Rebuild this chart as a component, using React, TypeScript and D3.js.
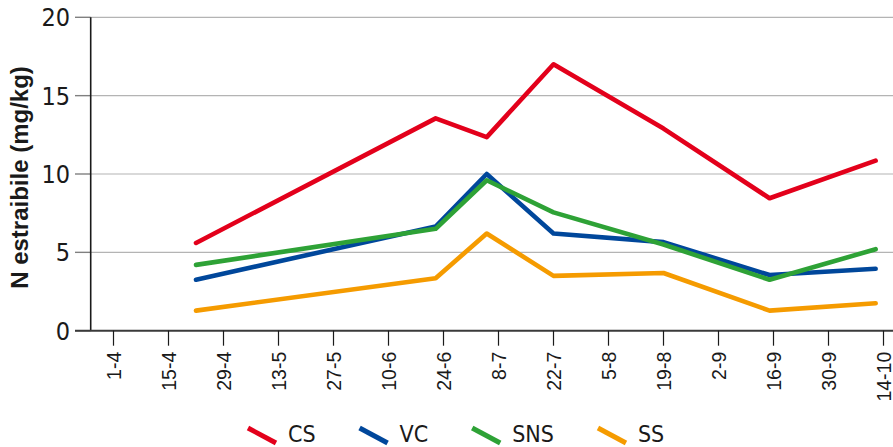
import React, { useEffect, useRef } from "react";
import * as d3 from "d3";

// ---- data ----
const sampleDates = ["2021-04-22", "2021-06-22", "2021-07-05", "2021-07-22", "2021-08-19", "2021-09-15", "2021-10-12"];
const seriesNames = ["CS", "VC", "SNS", "SS"];
const csValues = [5.6, 13.55, 12.35, 17.0, 12.9, 8.45, 10.85];
const vcValues = [3.25, 6.65, 10.0, 6.2, 5.65, 3.55, 3.95];
const snsValues = [4.2, 6.5, 9.6, 7.55, 5.5, 3.25, 5.2];
const ssValues = [1.28, 3.35, 6.2, 3.5, 3.68, 1.28, 1.75];
const xTickLabels = ["1-4", "15-4", "29-4", "13-5", "27-5", "10-6", "24-6", "8-7", "22-7", "5-8", "19-8", "2-9", "16-9", "30-9", "14-10"];
const yTicks = [0, 5, 10, 15, 20];
const yTitle = "N estraibile (mg/kg)";

const seriesColors = ["#e3001b", "#00479b", "#2ea236", "#f59b00"];

const W = 893;
const H = 447;

function parseTick(s: string): Date {
  const [d, m] = s.split("-").map(Number);
  return new Date(Date.UTC(2021, m - 1, d));
}

export default function App() {
  const ref = useRef<SVGSVGElement | null>(null);

  useEffect(() => {
    const svg = d3.select(ref.current);
    svg.selectAll("*").remove();

    const numFont = "'Liberation Sans Narrow', 'DejaVu Sans Condensed', 'Liberation Sans', sans-serif";
    const tickDates = xTickLabels.map(parseTick);
    const plotLeft = 90.7;
    const plotRight = W;

    const x = d3
      .scaleUtc()
      .domain([tickDates[0], tickDates[tickDates.length - 1]])
      .range([113.5, 883.5]);
    const y = d3.scaleLinear().domain([0, 20]).range([330.7, 17.3]);

    // gridlines
    svg
      .append("g")
      .selectAll("line")
      .data(yTicks.filter((t) => t > 0))
      .join("line")
      .attr("x1", plotLeft)
      .attr("x2", plotRight)
      .attr("y1", (d) => y(d))
      .attr("y2", (d) => y(d))
      .attr("stroke", "#b4b4b4")
      .attr("stroke-width", 1.2);

    // y ticks
    svg
      .append("g")
      .selectAll("line")
      .data(yTicks)
      .join("line")
      .attr("x1", 75)
      .attr("x2", plotLeft)
      .attr("y1", (d) => y(d))
      .attr("y2", (d) => y(d))
      .attr("stroke", "#808080")
      .attr("stroke-width", 1.4);

    // y tick labels
    svg
      .append("g")
      .selectAll("text")
      .data(yTicks)
      .join("text")
      .attr("x", 70)
      .attr("y", (d) => y(d))
      .attr("dy", "0.36em")
      .attr("text-anchor", "end")
      .attr("font-family", numFont)
      .attr("font-size", 25)
      .attr("fill", "#1a1a1a")
      .text((d) => String(d));

    // y axis line
    svg
      .append("line")
      .attr("x1", plotLeft)
      .attr("x2", plotLeft)
      .attr("y1", y(20))
      .attr("y2", y(0))
      .attr("stroke", "#1a1a1a")
      .attr("stroke-width", 1.6);

    // x axis line
    svg
      .append("line")
      .attr("x1", 75)
      .attr("x2", plotRight)
      .attr("y1", y(0))
      .attr("y2", y(0))
      .attr("stroke", "#3a3a3a")
      .attr("stroke-width", 2);

    // x ticks
    svg
      .append("g")
      .selectAll("line")
      .data(tickDates)
      .join("line")
      .attr("x1", (d) => x(d))
      .attr("x2", (d) => x(d))
      .attr("y1", y(0))
      .attr("y2", y(0) + 15)
      .attr("stroke", "#1a1a1a")
      .attr("stroke-width", 1.2);

    // x tick labels
    svg
      .append("g")
      .selectAll("text")
      .data(xTickLabels)
      .join("text")
      .attr("transform", (d) => `translate(${x(parseTick(d))},${y(0) + 21}) rotate(-90)`)
      .attr("dy", "0.36em")
      .attr("text-anchor", "end")
      .attr("font-family", "'Liberation Sans', Arial, sans-serif")
      .attr("font-size", 19.5)
      .attr("fill", "#1a1a1a")
      .text((d) => d);

    // y title
    svg
      .append("text")
      .attr("transform", `translate(28,177.5) rotate(-90)`)
      .attr("text-anchor", "middle")
      .attr("font-family", "'Liberation Sans', Arial, sans-serif")
      .attr("font-weight", "bold")
      .attr("font-size", 24)
      .attr("fill", "#1a1a1a")
      .text(yTitle);

    // lines
    const allSeries = [csValues, vcValues, snsValues, ssValues];
    const dates = sampleDates.map((s) => new Date(s + "T00:00:00Z"));
    const line = d3
      .line<number>()
      .x((_, i) => x(dates[i]))
      .y((d) => y(d));

    svg
      .append("g")
      .selectAll("path")
      .data(allSeries)
      .join("path")
      .attr("d", (d) => line(d) as string)
      .attr("fill", "none")
      .attr("stroke", (_, i) => seriesColors[i])
      .attr("stroke-width", 4.6)
      .attr("stroke-linejoin", "round")
      .attr("stroke-linecap", "round");

    // legend
    const lg = svg.append("g");
    let lx = 248;
    seriesNames.forEach((name, i) => {
      lg.append("line")
        .attr("x1", lx)
        .attr("y1", 428)
        .attr("x2", lx + 28)
        .attr("y2", 443)
        .attr("stroke", seriesColors[i])
        .attr("stroke-width", 5);
      const t = lg
        .append("text")
        .attr("x", lx + 40)
        .attr("y", 441.5)
        .attr("font-family", numFont)
        .attr("font-size", 23)
        .attr("fill", "#1a1a1a")
        .text(name);
      const tw = (t.node() as SVGTextElement).getComputedTextLength();
      lx = lx + 40 + tw + 44;
    });
  }, []);

  return (
    <svg
      ref={ref}
      width={W}
      height={H}
      viewBox={`0 0 ${W} ${H}`}
      style={{ position: "absolute", left: 0, top: 0, background: "#fff", display: "block" }}
    />
  );
}
